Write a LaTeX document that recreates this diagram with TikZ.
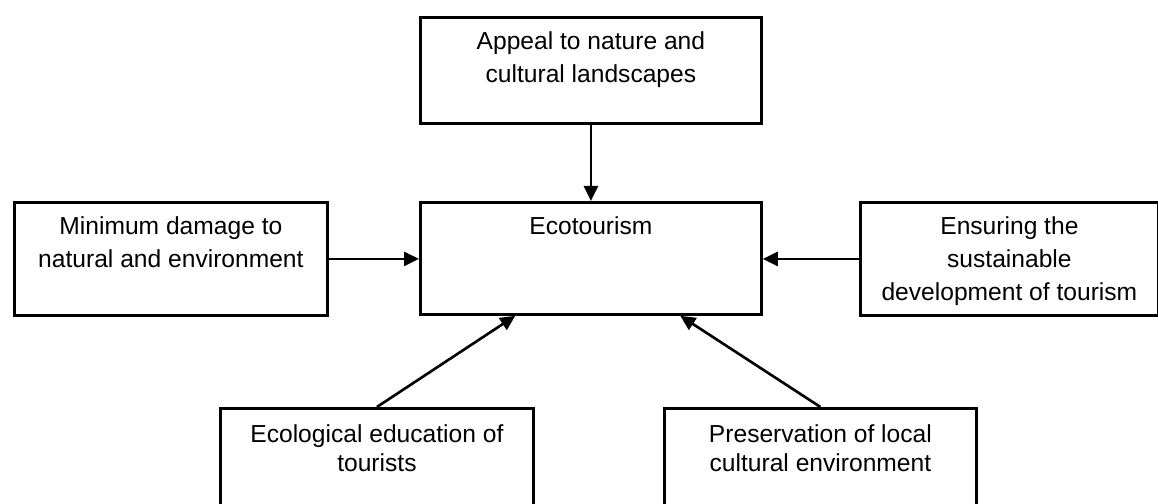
\documentclass[tikz,border=0pt]{standalone}
\usepackage{fontspec}
\setmainfont{Liberation Sans}
\usetikzlibrary{arrows.meta,calc}
\newcommand{\boxlines}[1]{\begin{tabular}[t]{@{}c@{}}#1\end{tabular}}

\begin{document}
\begin{tikzpicture}[boxstyle/.style={draw, line width=1.6pt, anchor=north west, inner sep=0pt, text height=0.64cm, text depth=1.6cm, font=\fontsize{14pt}{18.8pt}\selectfont},
  arrowstyle/.style={-{Triangle[length=0.3cm,width=0.28cm]}, line width=1.5pt}]
  \path [use as bounding box, clip] (0,0) rectangle (23.16,-10.08);

  \node [boxstyle, minimum width=6.82cm, text depth=1.48cm] (Appeal) at (8.38,-0.32) {\boxlines{Appeal to nature and\\cultural landscapes}};
  \node [boxstyle, minimum width=6.82cm] (Eco) at (8.38,-4.02) {\boxlines{Ecotourism}};
  \node [boxstyle, minimum width=6.26cm, text depth=1.62cm] (Damage) at (0.26,-4.02) {\boxlines{Minimum damage to\\natural and environment}};
  \node [boxstyle, minimum width=5.96cm, text depth=1.62cm] (Sustain) at (17.18,-4.02) {\boxlines{Ensuring the\\sustainable\\development of tourism}};
  \node [boxstyle, minimum width=6.26cm, text height=0.68cm, font=\fontsize{14pt}{16.5pt}\selectfont] (Educ) at (4.38,-8.14) {\boxlines{Ecological education of\\tourists}};
  \node [boxstyle, minimum width=6.24cm, text height=0.68cm, font=\fontsize{14pt}{16.5pt}\selectfont] (Preserve) at (13.26,-8.14) {\boxlines{Preservation of local\\cultural environment}};

  \draw [arrowstyle] (Appeal.south) -- (Eco.north);
  \draw [arrowstyle] (Damage.east) -- (Eco.west |- Damage.east);
  \draw [arrowstyle] (Sustain.west) -- (Eco.east |- Sustain.east);
  \draw [arrowstyle] (Educ.north) -- ($(Eco.south west)!0.28!(Eco.south east)$);
  \draw [arrowstyle] (Preserve.north) -- ($(Eco.south west)!0.76!(Eco.south east)$);
\end{tikzpicture}
\end{document}
